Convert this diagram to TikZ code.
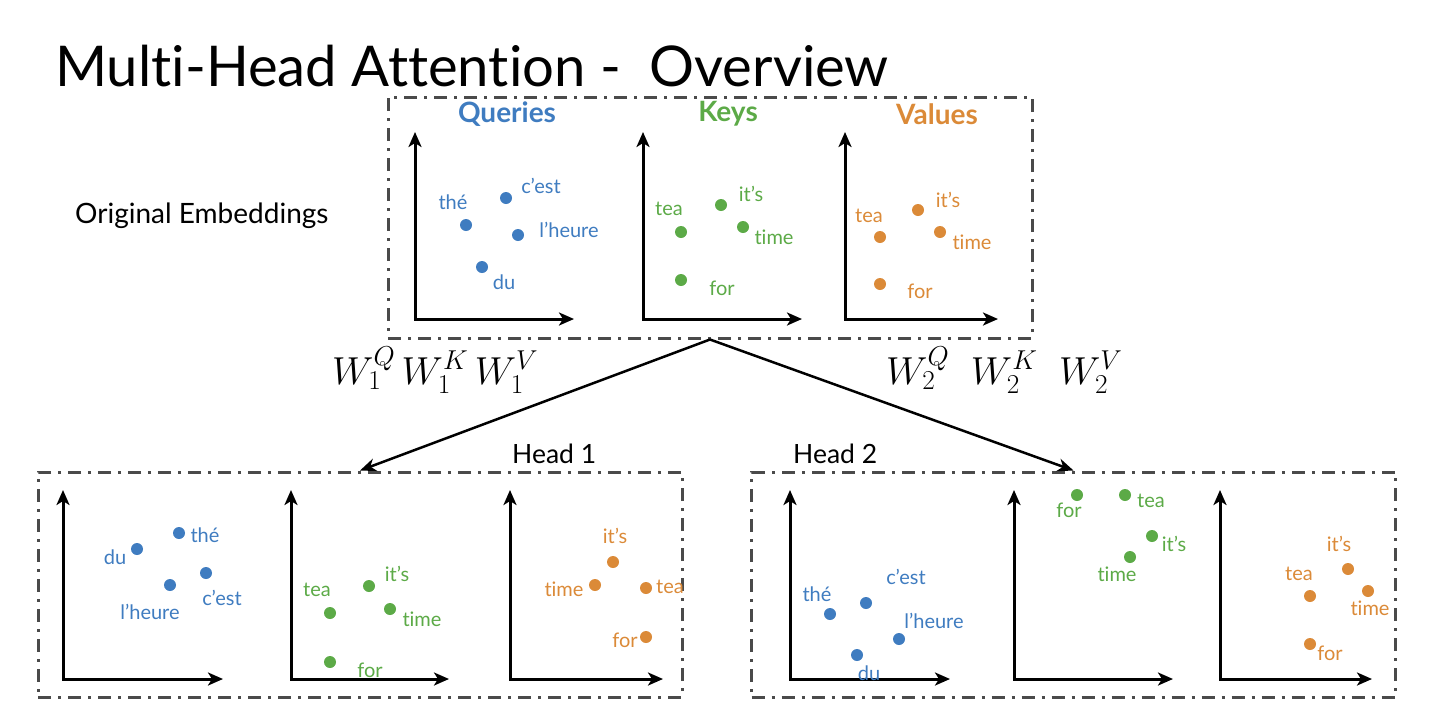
\RequirePackage{fix-cm}
\documentclass[tikz,border=0pt]{standalone}
\usepackage{fontspec}
\setmainfont{Lato}[Ligatures={NoCommon,NoRare}]
\usetikzlibrary{arrows.meta}

\definecolor{qblue}{HTML}{3F7CC0}
\definecolor{kgreen}{HTML}{5CAA47}
\definecolor{vorange}{HTML}{DB8A38}
\definecolor{boxgray}{HTML}{4A4A4A}

\tikzset{
  dashbox/.style={draw=boxgray, line width=3pt, dash pattern=on 13pt off 7pt on 3pt off 7pt,
    inner sep=0pt, minimum width=644pt, minimum height=#1},
  axarrow/.style={line width=3pt,
    {Stealth[length=15pt,width=13pt,inset=4pt]}-{Stealth[length=15pt,width=13pt,inset=4pt]}},
  bigarrow/.style={line width=2.5pt, -{Stealth[length=16pt,width=13pt,inset=5pt]}},
  pnt/.style={circle, fill=#1, minimum size=12pt, inner sep=0pt},
  word/.style={text=#1, font=\fontsize{20}{24}\selectfont, inner sep=0pt},
  heading/.style={text=#1, font=\bfseries\fontsize{28}{32}\selectfont, inner sep=0pt},
  plain/.style={anchor=base west, inner sep=0pt, font=\fontsize{#1}{#1}\selectfont},
}

\begin{document}
\begin{tikzpicture}[x=1pt, y=-1pt]
  \useasboundingbox (0,0) rectangle (1456,726);

  \node[plain=56.2] (title) at (55,86) {Multi-Head Attention -\ \ Overview};
  \node[plain=28] (origlbl) at (75,223) {Original Embeddings};

  % dashed frames
  \node[dashbox=241pt] (orig) at (710,217.5) {};
  \node[dashbox=225pt] (head1) at (360,584.5) {};
  \node[dashbox=225pt] (head2) at (1073.5,584.5) {};

  \node[heading=qblue] (hq) at (507,114) {Queries};
  \node[heading=kgreen] (hk) at (728,114) {Keys};
  \node[heading=vorange] (hv) at (937,114) {Values};

  % axes
  \foreach \ox/\ex/\ty/\by in {415/574/132/319, 643/802/132/319, 845/998/132/319,
      63/223/490/679, 291/449/490/679, 510/663/490/679,
      790/950/490/679, 1014/1173/490/679, 1220/1372/490/679}
    \draw[axarrow] (\ox,\ty) |- (\ex,\by);

  % original embeddings
  \foreach \n/\x/\y/\lx/\ly/\t in {the/466/225/453/202/thé, cest/506/198/541/186/c’est,
      lheure/518/235/569/230/l’heure, du/482/267/504/282/du}{
    \node[pnt=qblue] (q-\n) at (\x,\y) {};
    \node[word=qblue] (ql-\n) at (\lx,\ly) {\t};
  }
  \foreach \n/\x/\y/\lx/\ly/\t in {tea/681/232/669/209/tea, its/721/205/751/194/it’s,
      time/743/227/774/237/time, for/681/280/722/288/for}{
    \node[pnt=kgreen] (k-\n) at (\x,\y) {};
    \node[word=kgreen] (kl-\n) at (\lx,\ly) {\t};
  }
  \foreach \n/\x/\y/\lx/\ly/\t in {tea/880/237/869/216/tea, its/918/210/948/200/it’s,
      time/940/232/972/242/time, for/880/284/920/291/for}{
    \node[pnt=vorange] (v-\n) at (\x,\y) {};
    \node[word=vorange] (vl-\n) at (\lx,\ly) {\t};
  }

  % head 1
  \foreach \n/\x/\y/\lx/\ly/\t in {the/179/533/205/535/thé, du/137/549/115/557/du,
      cest/206/573/222/598/c’est, lheure/170/585/150/612/l’heure}{
    \node[pnt=qblue] (qa-\n) at (\x,\y) {};
    \node[word=qblue] (qal-\n) at (\lx,\ly) {\t};
  }
  \foreach \n/\x/\y/\lx/\ly/\t in {tea/330/613/317/590/tea, its/369/586/397/574/it’s,
      time/390/609/422/619/time, for/330/662/370/670/for}{
    \node[pnt=kgreen] (ka-\n) at (\x,\y) {};
    \node[word=kgreen] (kal-\n) at (\lx,\ly) {\t};
  }
  \foreach \n/\x/\y/\lx/\ly/\t in {its/613/562/615/536/it’s, time/595/585/564/589/time,
      tea/646/588/670/587/tea, for/646/637/625/640/for}{
    \node[pnt=vorange] (va-\n) at (\x,\y) {};
    \node[word=vorange] (val-\n) at (\lx,\ly) {\t};
  }

  % head 2
  \foreach \n/\x/\y/\lx/\ly/\t in {the/830/614/817/594/thé, cest/866/603/906/577/c’est,
      lheure/899/639/934/621/l’heure, du/857/655/869/673/du}{
    \node[pnt=qblue] (qb-\n) at (\x,\y) {};
    \node[word=qblue] (qbl-\n) at (\lx,\ly) {\t};
  }
  \foreach \n/\x/\y/\lx/\ly/\t in {for/1077/495/1069/510/for, tea/1125/495/1151/501/tea,
      its/1152/536/1174/544/it’s, time/1130/557/1117/574/time}{
    \node[pnt=kgreen] (kb-\n) at (\x,\y) {};
    \node[word=kgreen] (kbl-\n) at (\lx,\ly) {\t};
  }
  \foreach \n/\x/\y/\lx/\ly/\t in {its/1348/569/1339/544/it’s, tea/1310/596/1299/574/tea,
      time/1368/591/1370/608/time, for/1310/644/1330/653/for}{
    \node[pnt=vorange] (vb-\n) at (\x,\y) {};
    \node[word=vorange] (vbl-\n) at (\lx,\ly) {\t};
  }

  % projections
  \node[plain=39] (w1) at (332,384) {$W_1^Q\,W_1^K\,W_1^V$};
  \node[plain=39] (w2) at (886,384) {$W_2^Q\;\;W_2^K\;\;W_2^V$};
  \draw[bigarrow] (orig.south) -- (head1.north);
  \draw[bigarrow] (orig.south) -- (head2.north);
  \node[plain=26.5] (h1) at (512,463) {Head 1};
  \node[plain=26.5] (h2) at (793,463) {Head 2};
\end{tikzpicture}
\end{document}
